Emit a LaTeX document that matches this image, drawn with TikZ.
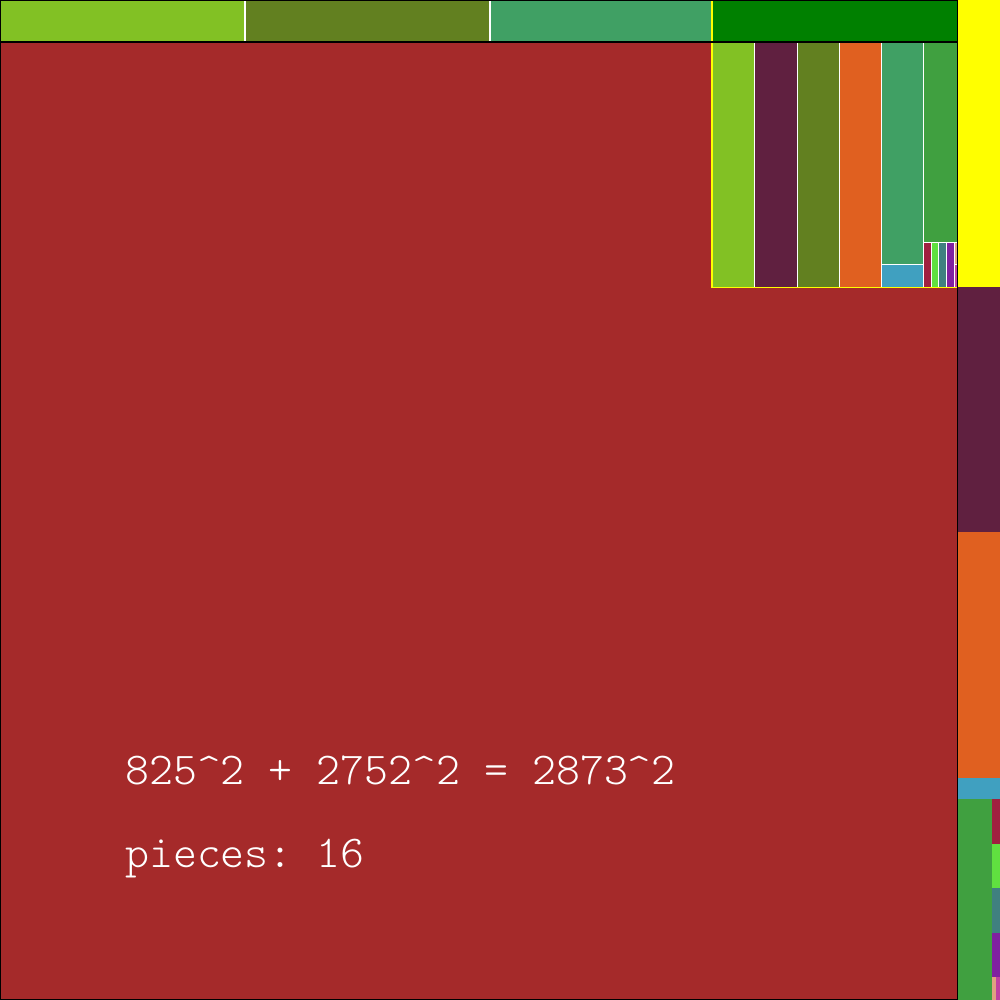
\documentclass[tikz,border=0pt]{standalone}
\usepackage{fontspec}
\newfontfamily\lightmono{Latin Modern Mono Light}
\definecolor{cbrown}{RGB}{165,42,42}
\definecolor{clgreen}{RGB}{130,193,36}
\definecolor{colive}{RGB}{98,128,32}
\definecolor{cteal}{RGB}{64,160,100}
\definecolor{cdgreen}{RGB}{0,128,0}
\definecolor{cyellow}{RGB}{255,255,0}
\definecolor{cplum}{RGB}{96,32,64}
\definecolor{corange}{RGB}{224,96,32}
\definecolor{cgreen}{RGB}{64,160,64}
\definecolor{cblue}{RGB}{64,160,192}
\definecolor{ccrimson}{RGB}{160,32,64}
\definecolor{clime}{RGB}{96,224,64}
\definecolor{cslate}{RGB}{64,128,128}
\definecolor{cviolet}{RGB}{128,32,160}
\definecolor{csalmon}{RGB}{224,160,128}
\definecolor{cpink}{RGB}{192,64,160}
\tikzset{
  wline/.style={draw=white,line width=1.3pt},
  yline/.style={draw=cyellow,line width=1.6pt},
  bline/.style={draw=black,line width=1.3pt},
  lbl/.style={text=white,font=\lightmono\frenchspacing\fontsize{45.6}{54}\selectfont,anchor=base west,inner sep=0pt}
}
\begin{document}
\begin{tikzpicture}[x=1pt,y=-1pt]
\useasboundingbox (0,0) rectangle (1000,1000);
% big square
\fill[cbrown] (0,42) rectangle (957.5,1000);
% top strip
\fill[clgreen] (0,0) rectangle (245,42);
\fill[colive] (245,0) rectangle (490,42);
\fill[cteal] (490,0) rectangle (712,42);
\fill[cdgreen] (712,0) rectangle (957.5,42);
% yellow
\fill[cyellow] (957.5,0) rectangle (1000,287.3);
% block under dark green
\fill[clgreen] (712,42) rectangle (754.3,287.3);
\fill[cplum] (754.3,42) rectangle (797.3,287.3);
\fill[colive] (797.3,42) rectangle (839.3,287.3);
\fill[corange] (839.3,42) rectangle (881.7,287.3);
\fill[cteal] (881.7,42) rectangle (923.7,264.3);
\fill[cblue] (881.7,264.3) rectangle (923.7,287.3);
\fill[cgreen] (923.7,42) rectangle (957.5,242.3);
\fill[ccrimson] (923.7,242.3) rectangle (931.5,287.3);
\fill[clime] (931.5,242.3) rectangle (938.5,287.3);
\fill[cslate] (938.5,242.3) rectangle (946.2,287.3);
\fill[cviolet] (946.2,242.3) rectangle (954.2,287.3);
\fill[csalmon] (954.2,242.3) rectangle (957.5,264.3);
\fill[cpink] (954.2,264.3) rectangle (957.5,287.3);
% right column
\fill[cplum] (957.5,287.3) rectangle (1000,531.7);
\fill[corange] (957.5,531.7) rectangle (1000,777.5);
\fill[cblue] (957.5,777.5) rectangle (1000,799);
\fill[cgreen] (957.5,799) rectangle (991.8,1000);
\fill[ccrimson] (991.8,799) rectangle (1000,844);
\fill[clime] (991.8,844) rectangle (1000,888);
\fill[cslate] (991.8,888) rectangle (1000,933);
\fill[cviolet] (991.8,933) rectangle (1000,977);
\fill[csalmon] (991.8,977) rectangle (996,1000);
\fill[cpink] (996,977) rectangle (1000,1000);
% white separators
\draw[wline] (245,0) -- (245,42);
\draw[wline] (490,0) -- (490,42);
\foreach \x in {754.3,797.3,839.3,881.7,923.7} \draw[wline] (\x,42) -- (\x,287.3);
\draw[wline] (881.7,264.3) -- (923.7,264.3);
\draw[wline] (923.7,242.3) -- (957.5,242.3);
\foreach \x in {931.5,938.5,946.2,954.2} \draw[wline] (\x,242.3) -- (\x,287.3);
\draw[wline] (954.2,264.3) -- (957.5,264.3);
% yellow lines
\draw[yline] (712,0) -- (712,287.3) -- (957.5,287.3);
% black outlines
\draw[bline] (0,0) rectangle (957.5,1000);
\draw[bline] (0,42) -- (957.5,42);
% texts
\node[lbl] (eq) at (125,784) {825\^{}2 + 2752\^{}2 = 2873\^{}2};
\node[lbl] (pc) at (125,867) {pieces: 16};
\end{tikzpicture}
\end{document}
